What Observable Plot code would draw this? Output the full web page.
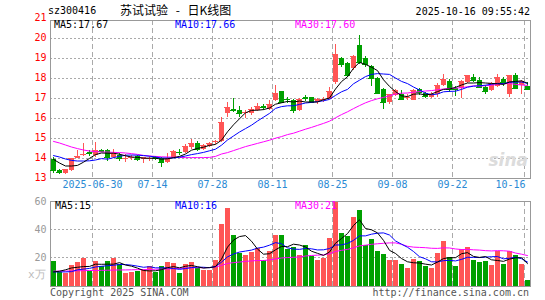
<!DOCTYPE html>
<html><head><meta charset="utf-8">
<script src="https://cdn.jsdelivr.net/npm/d3@7"></script>
<script src="https://cdn.jsdelivr.net/npm/@observablehq/plot@0.6"></script>
<style>
body{margin:0;background:#fff;}
#wrap{position:relative;width:545px;height:300px;overflow:hidden;background:#fff;font-family:"DejaVu Sans Mono",monospace;font-size:10px;}
.t{position:absolute;white-space:pre;line-height:12px;}
#topPanel,#volPanel{position:absolute;left:0;}
</style></head><body>
<div id="wrap">
  <div id="topPanel" style="top:0"></div>
  <div id="volPanel" style="top:195px"></div>
  <div class="t" id="code" style="left:48px;top:5px;color:#000"></div>
  <div class="t" id="title" style="left:120px;top:3px;font-family:'Noto Sans CJK SC',sans-serif;font-size:12px;line-height:14px;word-spacing:5px;color:#000"></div>
  <div class="t" id="stamp" style="right:15px;top:6px;color:#000"></div>
  <div class="t" id="ma5" style="left:54px;top:19px;color:#000"></div>
  <div class="t" id="ma10" style="left:175px;top:19px;color:#0000ff"></div>
  <div class="t" id="ma30" style="left:295px;top:19px;color:#ff00ff"></div>
  <div class="t" id="vma5" style="left:55px;top:200px;color:#000"></div>
  <div class="t" id="vma10" style="left:175px;top:200px;color:#0000ff"></div>
  <div class="t" id="vma30" style="left:295px;top:200px;color:#ff00ff"></div>
  <div class="t" id="unit" style="left:28px;top:268px;color:#bbb;font-size:11px;line-height:13px"></div>
  <div class="t" id="copy" style="left:50px;top:287px;color:#555"></div>
  <div class="t" id="url" style="right:16px;top:287px;color:#555"></div>
  <div class="t" id="wm" style="right:17px;top:150px;color:#dcdcdc;font-family:'DejaVu Sans',sans-serif;font-style:italic;font-weight:bold;font-size:17px;line-height:20px"></div>
</div>
<script>
const stockCode = "sz300416";
const stockTitle = "苏试试验 - 日K线图";
const timeStamp = "2025-10-16 09:55:42";
const maLabels = ["MA5:17.67", "MA10:17.66", "MA30:17.60"];
const volMaLabels = ["MA5:15", "MA10:16", "MA30:21"];
const volUnit = "x万";
const copyright = "Copyright 2025 SINA.COM";
const siteUrl = "http://finance.sina.com.cn";
const watermark = "sina";

const dates = [
 "2025-06-19","2025-06-20","2025-06-23","2025-06-24","2025-06-25","2025-06-26","2025-06-27","2025-06-30",
 "2025-07-01","2025-07-02","2025-07-03","2025-07-04","2025-07-07","2025-07-08","2025-07-09","2025-07-10","2025-07-11",
 "2025-07-14","2025-07-15","2025-07-16","2025-07-17","2025-07-18","2025-07-21","2025-07-22","2025-07-23","2025-07-24","2025-07-25",
 "2025-07-28","2025-07-29","2025-07-30","2025-07-31","2025-08-01","2025-08-04","2025-08-05","2025-08-06","2025-08-07","2025-08-08",
 "2025-08-11","2025-08-12","2025-08-13","2025-08-14","2025-08-15","2025-08-18","2025-08-19","2025-08-20","2025-08-21","2025-08-22",
 "2025-08-25","2025-08-26","2025-08-27","2025-08-28","2025-08-29","2025-09-01","2025-09-02","2025-09-03","2025-09-04","2025-09-05",
 "2025-09-08","2025-09-09","2025-09-10","2025-09-11","2025-09-12","2025-09-15","2025-09-16","2025-09-17","2025-09-18","2025-09-19",
 "2025-09-22","2025-09-23","2025-09-24","2025-09-25","2025-09-26","2025-09-29","2025-09-30",
 "2025-10-09","2025-10-10","2025-10-13","2025-10-14","2025-10-15","2025-10-16"];

const open = [13.95,13.38,13.25,13.38,14.00,14.15,14.30,14.12,14.40,14.38,
 14.05,14.15,13.97,14.00,14.08,13.93,13.97,14.05,14.00,13.80,
 14.02,14.30,14.30,14.55,14.72,14.45,14.60,14.77,14.82,16.22,
 16.45,16.38,16.22,16.25,16.38,16.57,16.45,16.90,17.33,16.95,
 16.90,16.37,17.05,17.03,16.80,16.90,16.95,17.80,19.00,18.75,
 18.47,19.65,19.00,18.58,18.00,17.45,16.80,17.15,17.20,17.00,
 16.90,17.45,17.23,17.03,17.17,17.63,17.83,17.50,17.47,17.77,
 18.03,17.88,17.55,17.38,17.58,17.95,17.18,18.13,17.62,17.58];
const high = [14.02,13.42,13.45,14.00,14.40,14.72,14.40,14.80,14.45,14.42,
 14.42,14.25,14.20,14.12,14.12,14.05,14.10,14.10,14.05,14.25,
 14.38,14.42,14.68,14.95,14.83,14.68,14.78,14.90,16.05,16.77,
 17.00,16.58,16.38,16.52,16.73,16.68,16.90,17.65,17.35,17.05,
 16.95,17.00,17.15,17.05,16.98,17.05,17.55,19.70,19.05,18.78,
 19.15,20.13,19.08,18.65,18.05,17.50,17.20,17.42,17.40,17.20,
 17.42,17.50,17.27,17.28,17.75,18.17,17.92,17.60,17.87,18.15,
 18.17,18.05,17.63,17.77,18.18,18.03,18.15,18.25,17.90,17.80];
const low = [13.25,13.20,13.18,13.33,13.98,14.08,14.10,14.05,14.28,13.85,
 14.00,13.83,13.80,13.90,13.85,13.72,13.85,13.90,13.55,13.75,
 14.00,14.12,14.25,14.45,14.33,14.40,14.55,14.70,14.80,16.05,
 16.27,16.05,16.00,16.12,16.32,16.40,16.40,16.83,16.75,16.72,
 16.23,16.33,16.85,16.78,16.68,16.80,16.93,17.70,18.55,18.05,
 18.40,18.70,18.55,17.60,17.20,16.42,16.67,17.10,16.93,16.90,
 16.88,17.15,17.00,16.98,17.05,17.60,17.27,17.10,17.00,17.75,
 17.80,17.48,17.20,17.35,17.55,17.58,17.05,17.45,17.20,17.38];
const close = [13.40,13.30,13.43,13.97,14.07,14.18,14.25,14.38,14.35,14.02,
 14.22,13.97,14.00,14.03,13.92,14.02,14.00,13.98,13.80,14.00,
 14.33,14.28,14.58,14.75,14.45,14.62,14.75,14.82,15.80,16.55,
 16.40,16.25,16.30,16.42,16.58,16.53,16.68,17.22,16.80,16.92,
 16.37,16.93,16.97,16.80,16.95,16.95,17.35,19.20,18.67,18.12,
 19.10,18.80,18.70,18.00,17.25,16.80,17.17,17.38,16.95,17.05,
 17.38,17.30,17.07,17.20,17.63,17.93,17.43,17.45,17.83,18.13,
 17.90,17.55,17.35,17.72,18.03,17.77,18.13,17.50,17.85,17.43];
const ma5 = [13.93,13.75,13.60,13.60,13.63,13.79,13.98,14.17,14.25,14.24,
 14.24,14.19,14.11,14.05,14.03,13.99,13.99,13.99,13.94,13.96,
 14.02,14.08,14.20,14.39,14.48,14.54,14.63,14.68,14.89,15.31,
 15.66,15.96,16.26,16.38,16.39,16.42,16.50,16.69,16.76,16.83,
 16.80,16.85,16.80,16.80,16.80,16.92,17.00,17.45,17.82,18.06,
 18.49,18.78,18.68,18.54,18.37,17.91,17.58,17.32,17.11,17.07,
 17.19,17.21,17.15,17.20,17.32,17.43,17.45,17.53,17.65,17.75,
 17.75,17.77,17.75,17.73,17.71,17.68,17.80,17.83,17.86,17.74];
const ma10 = [14.12,14.05,13.95,13.88,13.85,13.85,13.86,13.90,13.97,13.94,
 14.02,14.08,14.14,14.15,14.14,14.12,14.09,14.05,14.00,14.00,
 14.00,14.04,14.10,14.17,14.22,14.28,14.36,14.44,14.64,14.90,
 15.10,15.30,15.47,15.64,15.85,16.04,16.23,16.48,16.57,16.61,
 16.61,16.68,16.75,16.78,16.82,16.86,16.93,17.13,17.31,17.43,
 17.71,17.89,18.07,18.18,18.22,18.20,18.18,18.00,17.83,17.72,
 17.55,17.40,17.24,17.16,17.20,17.31,17.33,17.34,17.43,17.54,
 17.59,17.61,17.64,17.69,17.73,17.72,17.79,17.79,17.80,17.73];
const ma30 = [14.83,14.75,14.65,14.55,14.47,14.40,14.35,14.32,14.30,14.30,
 14.28,14.27,14.25,14.22,14.18,14.13,14.10,14.08,14.06,14.05,
 14.04,14.03,14.02,14.02,14.02,14.02,14.03,14.08,14.20,14.27,
 14.37,14.47,14.57,14.65,14.73,14.81,14.89,14.99,15.07,15.17,
 15.24,15.34,15.44,15.53,15.63,15.73,15.84,16.01,16.17,16.31,
 16.47,16.62,16.76,16.87,16.96,17.03,17.11,17.20,17.24,17.25,
 17.29,17.32,17.35,17.37,17.41,17.45,17.48,17.49,17.52,17.56,
 17.61,17.60,17.61,17.64,17.68,17.71,17.73,17.68,17.65,17.63];

const volume = [17.1,9.5,8.8,14.3,16.7,19.5,10.0,17.1,13.8,17.1,
 19.5,15.5,8.8,9.5,10.0,11.4,13.6,9.5,13.6,16.7,
 15.7,8.8,15.0,16.7,12.4,10.7,10.7,17.9,43.6,55.2,
 35.7,23.1,21.4,23.8,26.9,17.9,24.3,35.7,35.7,25.7,
 27.1,21.4,28.6,20.9,17.9,19.5,33.8,60.0,37.4,35.2,
 48.6,53.6,29.0,33.1,24.3,22.1,17.9,17.9,15.5,12.4,
 18.6,17.1,13.8,12.4,22.9,31.4,20.0,13.8,26.2,27.1,
 17.9,16.4,17.1,14.3,24.8,15.0,24.3,21.4,15.0,3.6];
const vma5 = [10.0,10.5,11.5,12.8,13.3,13.8,13.9,15.5,15.4,15.5,
 15.5,16.6,14.9,14.1,12.7,11.0,10.7,10.8,11.6,13.0,
 13.8,12.9,14.0,14.6,13.7,12.7,13.1,13.7,19.1,27.6,
 32.6,35.1,35.8,31.8,26.2,22.6,22.9,25.7,28.1,27.9,
 29.7,29.1,27.7,24.7,23.2,21.7,24.1,30.4,33.7,37.2,
 43.0,47.0,40.8,39.9,37.7,32.4,25.3,23.1,19.5,17.2,
 16.5,16.3,15.5,14.9,17.0,19.5,20.1,20.1,22.9,23.7,
 21.0,20.3,20.9,18.6,18.1,17.5,19.1,20.0,20.1,15.9];
const vma10 = [10.0,10.0,10.0,10.2,11.5,12.0,12.5,13.5,14.0,14.4,
 14.7,15.3,15.2,14.8,14.1,13.3,13.7,12.9,12.9,12.9,
 12.4,11.8,12.4,13.1,13.4,13.3,13.0,13.9,16.9,20.7,
 22.7,24.1,24.8,25.5,26.9,27.6,29.0,30.8,30.0,27.1,
 26.2,26.0,26.7,26.4,25.6,25.7,26.6,29.1,29.2,30.2,
 32.4,35.6,35.6,36.8,37.5,37.7,36.2,32.0,29.7,27.5,
 24.5,20.8,19.3,17.2,17.1,18.0,18.2,17.8,18.9,20.4,
 20.3,20.2,20.5,20.8,20.9,19.3,19.7,20.5,19.4,17.0];
const vma30 = [10.5,10.6,10.6,10.7,10.8,10.9,11.0,11.0,11.1,11.2,
 11.3,11.4,11.4,11.5,11.6,11.7,11.8,11.9,12.0,12.1,
 12.3,12.5,12.7,12.9,13.0,13.0,13.1,13.5,14.6,16.0,
 16.6,17.0,17.5,17.8,18.1,18.1,18.5,19.2,19.9,20.2,
 20.4,20.6,21.3,21.7,21.9,22.2,22.9,24.5,25.3,26.0,
 27.1,28.5,29.0,29.6,30.0,30.3,30.6,30.6,29.6,28.2,
 27.6,27.4,27.2,26.8,26.7,27.1,27.0,26.3,25.9,26.0,
 25.7,25.5,25.1,24.9,25.1,25.0,24.7,23.4,22.6,21.6];

const xTickDates = ["2025-06-30","2025-07-14","2025-07-28","2025-08-11","2025-08-25","2025-09-08","2025-09-22","2025-10-16"];
const xTickLabels = ["2025-06-30","07-14","07-28","08-11","08-25","09-08","09-22","10-16"];
const priceTicks = [13,14,15,16,17,18,19,20,21];
const volTicks = [20,40,60];

const UP = "#ff5555", DOWN = "#00a000";
const rows = dates.map((d, i) => ({i, date: d, o: open[i], h: high[i], l: low[i], c: close[i],
  v: volume[i], ma5: ma5[i], ma10: ma10[i], ma30: ma30[i], vma5: vma5[i], vma10: vma10[i], vma30: vma30[i]}));
const ups = rows.filter(r => r.c >= r.o);
const downs = rows.filter(r => r.c < r.o);
const ticks = xTickDates.map((d, k) => ({i: dates.indexOf(d), label: xTickLabels[k]}));
const N = dates.length;
const font = {fontFamily: "DejaVu Sans Mono, monospace", fontSize: "10px", background: "transparent", overflow: "visible"};

function candles(set, color) {
  return [
    Plot.ruleX(set, {x: d => d.i + 0.5, y1: "l", y2: "h", stroke: color, shapeRendering: "crispEdges"}),
    Plot.rect(set, {x1: d => d.i, x2: d => d.i + 1, y1: "o", y2: "c", insetLeft: 0.5, insetRight: 0.5, fill: color, shapeRendering: "crispEdges"}),
    Plot.ruleY(set, {y: "c", x1: d => d.i + 0.08, x2: d => d.i + 0.92, stroke: color, shapeRendering: "crispEdges"})
  ];
}

const topChart = Plot.plot({
  width: 545, height: 195, marginLeft: 50, marginRight: 15, marginTop: 20, marginBottom: 17.5,
  x: {type: "linear", domain: [0, N], axis: null},
  y: {domain: [13, 20.875], axis: null},
  style: font,
  marks: [
    Plot.ruleY(priceTicks.filter(t => t > 13 && t < 21), {stroke: "#aaa", strokeDasharray: "2,2", shapeRendering: "crispEdges"}),
    Plot.ruleX(ticks, {x: "i", stroke: "#aaa", strokeDasharray: "5,3", shapeRendering: "crispEdges"}),
    Plot.frame({stroke: "#999", shapeRendering: "crispEdges"}),
    ...candles(ups, UP),
    ...candles(downs, DOWN),
    Plot.line(rows, {x: d => d.i + 0.5, y: "ma30", stroke: "#ff00ff", strokeWidth: 1}),
    Plot.line(rows, {x: d => d.i + 0.5, y: "ma10", stroke: "#0000ff", strokeWidth: 1}),
    Plot.line(rows, {x: d => d.i + 0.5, y: "ma5", stroke: "#000000", strokeWidth: 1}),
    Plot.text(priceTicks, {y: d => d, text: d => String(d), frameAnchor: "left", textAnchor: "end", dx: -4, fill: "#ff0000"}),
    Plot.text(ticks.slice(0, -1), {x: "i", text: "label", frameAnchor: "bottom", dy: 10, fill: "#2a8ad4"}),
    Plot.text(ticks.slice(-1), {x: "i", text: "label", frameAnchor: "bottom", dy: 10, dx: 1, textAnchor: "end", fill: "#2a8ad4"})
  ]
});
document.getElementById("topPanel").appendChild(topChart);

function bars(set, color) {
  return Plot.rectY(set, {x1: d => d.i, x2: d => d.i + 1, y: "v", insetLeft: 0.5, insetRight: 0.5, fill: color, shapeRendering: "crispEdges"});
}

const volChart = Plot.plot({
  width: 545, height: 95, marginLeft: 50, marginRight: 15, marginTop: 6, marginBottom: 4.5,
  x: {type: "linear", domain: [0, N], axis: null},
  y: {domain: [0, 60], axis: null},
  style: font,
  marks: [
    Plot.ruleY(volTicks.filter(t => t < 60), {stroke: "#aaa", strokeDasharray: "2,2", shapeRendering: "crispEdges"}),
    Plot.ruleX(ticks, {x: "i", stroke: "#aaa", strokeDasharray: "5,3", shapeRendering: "crispEdges"}),
    bars(ups, UP),
    bars(downs, DOWN),
    Plot.frame({stroke: "#999", shapeRendering: "crispEdges"}),
    Plot.line(rows, {x: d => d.i + 0.5, y: "vma30", stroke: "#ff00ff", strokeWidth: 1}),
    Plot.line(rows, {x: d => d.i + 0.5, y: "vma10", stroke: "#0000ff", strokeWidth: 1}),
    Plot.line(rows, {x: d => d.i + 0.5, y: "vma5", stroke: "#000000", strokeWidth: 1}),
    Plot.text(volTicks, {y: d => d, text: d => String(d), frameAnchor: "left", textAnchor: "end", dx: -4, fill: "#999"})
  ]
});
document.getElementById("volPanel").appendChild(volChart);

const setText = (id, s) => { document.getElementById(id).textContent = s; };
setText("code", stockCode);
setText("title", stockTitle);
setText("stamp", timeStamp);
setText("ma5", maLabels[0]); setText("ma10", maLabels[1]); setText("ma30", maLabels[2]);
setText("vma5", volMaLabels[0]); setText("vma10", volMaLabels[1]); setText("vma30", volMaLabels[2]);
setText("unit", volUnit);
setText("copy", copyright);
setText("url", siteUrl);
setText("wm", watermark);
</script>
</body></html>
